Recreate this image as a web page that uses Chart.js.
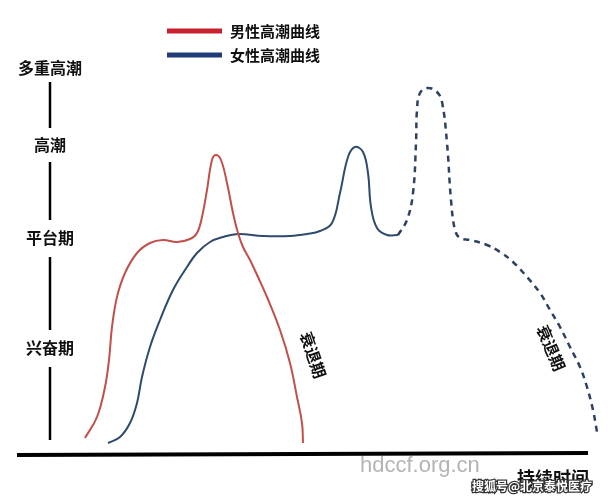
<!DOCTYPE html>
<html>
<head>
<meta charset="utf-8">
<script src="https://cdn.jsdelivr.net/npm/chart.js@4.4.1/dist/chart.umd.min.js"></script>
<style>
  html, body { margin: 0; padding: 0; background: #fff; }
  #wrap { width: 608px; height: 500px; }
</style>
</head>
<body>
<div id="wrap"><canvas id="curveChart" width="608" height="500"></canvas></div>
<script>
// time runs left to right, level = height above the time axis
const maleTime  = [85, 97, 105, 109, 112, 117, 125, 137, 150, 163, 177, 190, 197, 202, 207, 212, 216, 221, 227, 233, 238, 243, 250, 258, 267, 280, 290, 297, 302, 303];
const maleLevel = [19, 40, 70, 97, 130, 160, 184, 204, 214, 217, 215, 218, 224, 240, 267, 297, 302, 297, 274, 244, 224, 210, 197, 180, 160, 127, 94, 60, 34, 14];

const femaleTime  = [108, 120, 130, 137, 142, 150, 160, 173, 187, 197, 210, 223, 238, 263, 290, 307, 320, 332, 340, 348, 355, 363, 368, 371, 377, 387, 398];
const femaleLevel = [14, 20, 34, 54, 80, 110, 137, 167, 190, 204, 215, 220, 223, 221, 221, 223, 226, 234, 264, 300, 310, 305, 284, 250, 229, 222, 222];

// the multiple orgasm part, drawn dashed
const multiTime  = [398, 407, 413, 416, 417, 420, 428, 437, 442, 447, 451, 455, 460, 470, 487, 500, 513, 527, 540, 550, 560, 570, 580, 587, 593, 597];
const multiLevel = [222, 237, 264, 314, 347, 364, 369, 365, 355, 314, 257, 227, 219, 217, 212, 205, 195, 180, 164, 147, 130, 110, 90, 70, 47, 25];

const stageLabels = ['多重高潮', '高潮', '平台期', '兴奋期'];
const stageLevels = [389, 312, 219, 109];
const legendLabels = ['男性高潮曲线', '女性高潮曲线'];

function toPoints(xs, ys) {
  return xs.map((x, i) => ({ x: x, y: ys[i] }));
}

const RED = '#c0504a';
const BLUE = '#2e4a6c';

const overlay = {
  id: 'overlay',
  afterDatasetsDraw(chart) {
    const ctx = chart.ctx;
    const xs = chart.scales.x, ys = chart.scales.y;
    const px = v => xs.getPixelForValue(v);
    const py = v => ys.getPixelForValue(v);
    ctx.save();

    // time axis
    ctx.strokeStyle = '#000';
    ctx.lineWidth = 4;
    ctx.beginPath();
    ctx.moveTo(px(17), py(2));
    ctx.lineTo(px(588), py(4));
    ctx.stroke();

    // stage labels on the left with bars between them
    ctx.fillStyle = '#111';
    ctx.font = 'bold 16px "Noto Sans CJK SC"';
    ctx.textAlign = 'center';
    ctx.textBaseline = 'middle';
    stageLabels.forEach((t, i) => ctx.fillText(t, px(50), py(stageLevels[i])));
    ctx.lineWidth = 2.5;
    const bars = [[375, 329], [295, 237], [200, 127], [90, 17]];
    bars.forEach(b => {
      ctx.beginPath();
      ctx.moveTo(px(50), py(b[0]));
      ctx.lineTo(px(50), py(b[1]));
      ctx.stroke();
    });

    // legend
    const legendCols = ['#c8202c', '#1f3c78'];
    ctx.font = 'bold 15px "Noto Sans CJK SC"';
    ctx.textAlign = 'left';
    legendLabels.forEach((t, i) => {
      const y = 31 + i * 24;
      ctx.strokeStyle = legendCols[i];
      ctx.lineWidth = 5;
      ctx.beginPath();
      ctx.moveTo(167, y);
      ctx.lineTo(222, y);
      ctx.stroke();
      ctx.fillStyle = '#111';
      ctx.fillText(t, 230, y);
    });

    // rotated resolution labels
    ctx.font = 'bold 16px "Noto Sans CJK SC"';
    ctx.fillStyle = '#111';
    [[313, 102, 71], [551, 109, 67]].forEach(r => {
      ctx.save();
      ctx.translate(px(r[0]), py(r[1]));
      ctx.rotate(r[2] * Math.PI / 180);
      ctx.textAlign = 'center';
      ctx.fillText('衰退期', 0, 0);
      ctx.restore();
    });

    // bottom texts
    ctx.textAlign = 'left';
    ctx.fillStyle = '#b4b4b4';
    ctx.font = '22px "Liberation Sans"';
    ctx.fillText('hdccf.org.cn', 360, 466);
    ctx.fillStyle = '#111';
    ctx.font = 'bold 18px "Noto Sans CJK SC"';
    ctx.fillText('持续时间', 517, 478);
    ctx.font = 'bold 12px "Noto Sans CJK SC"';
    ctx.lineWidth = 2.5;
    ctx.strokeStyle = '#333';
    ctx.strokeText('搜狐号@北京泰悦医疗', 472, 486);
    ctx.fillStyle = '#fff';
    ctx.fillText('搜狐号@北京泰悦医疗', 472, 486);

    ctx.restore();
  }
};

const white = {
  id: 'white',
  beforeDraw(chart) {
    const ctx = chart.ctx;
    ctx.save();
    ctx.fillStyle = '#fff';
    ctx.fillRect(0, 0, chart.width, chart.height);
    ctx.restore();
  }
};

new Chart(document.getElementById('curveChart'), {
  type: 'line',
  data: {
    datasets: [
      { label: legendLabels[0], data: toPoints(maleTime, maleLevel), borderColor: RED, borderWidth: 2 },
      { label: legendLabels[1], data: toPoints(femaleTime, femaleLevel), borderColor: BLUE, borderWidth: 2 },
      { label: '多重高潮', data: toPoints(multiTime, multiLevel), borderColor: '#2d4260', borderWidth: 2.5, borderDash: [6, 5] }
    ]
  },
  options: {
    responsive: false,
    animation: false,
    layout: { padding: 0 },
    elements: {
      point: { radius: 0 },
      line: { tension: 0.4, fill: false }
    },
    plugins: { legend: { display: false }, tooltip: { enabled: false } },
    scales: {
      x: { type: 'linear', min: 0, max: 608, display: false },
      y: { type: 'linear', min: -43, max: 457, display: false }
    }
  },
  plugins: [white, overlay]
});
</script>
</body>
</html>
